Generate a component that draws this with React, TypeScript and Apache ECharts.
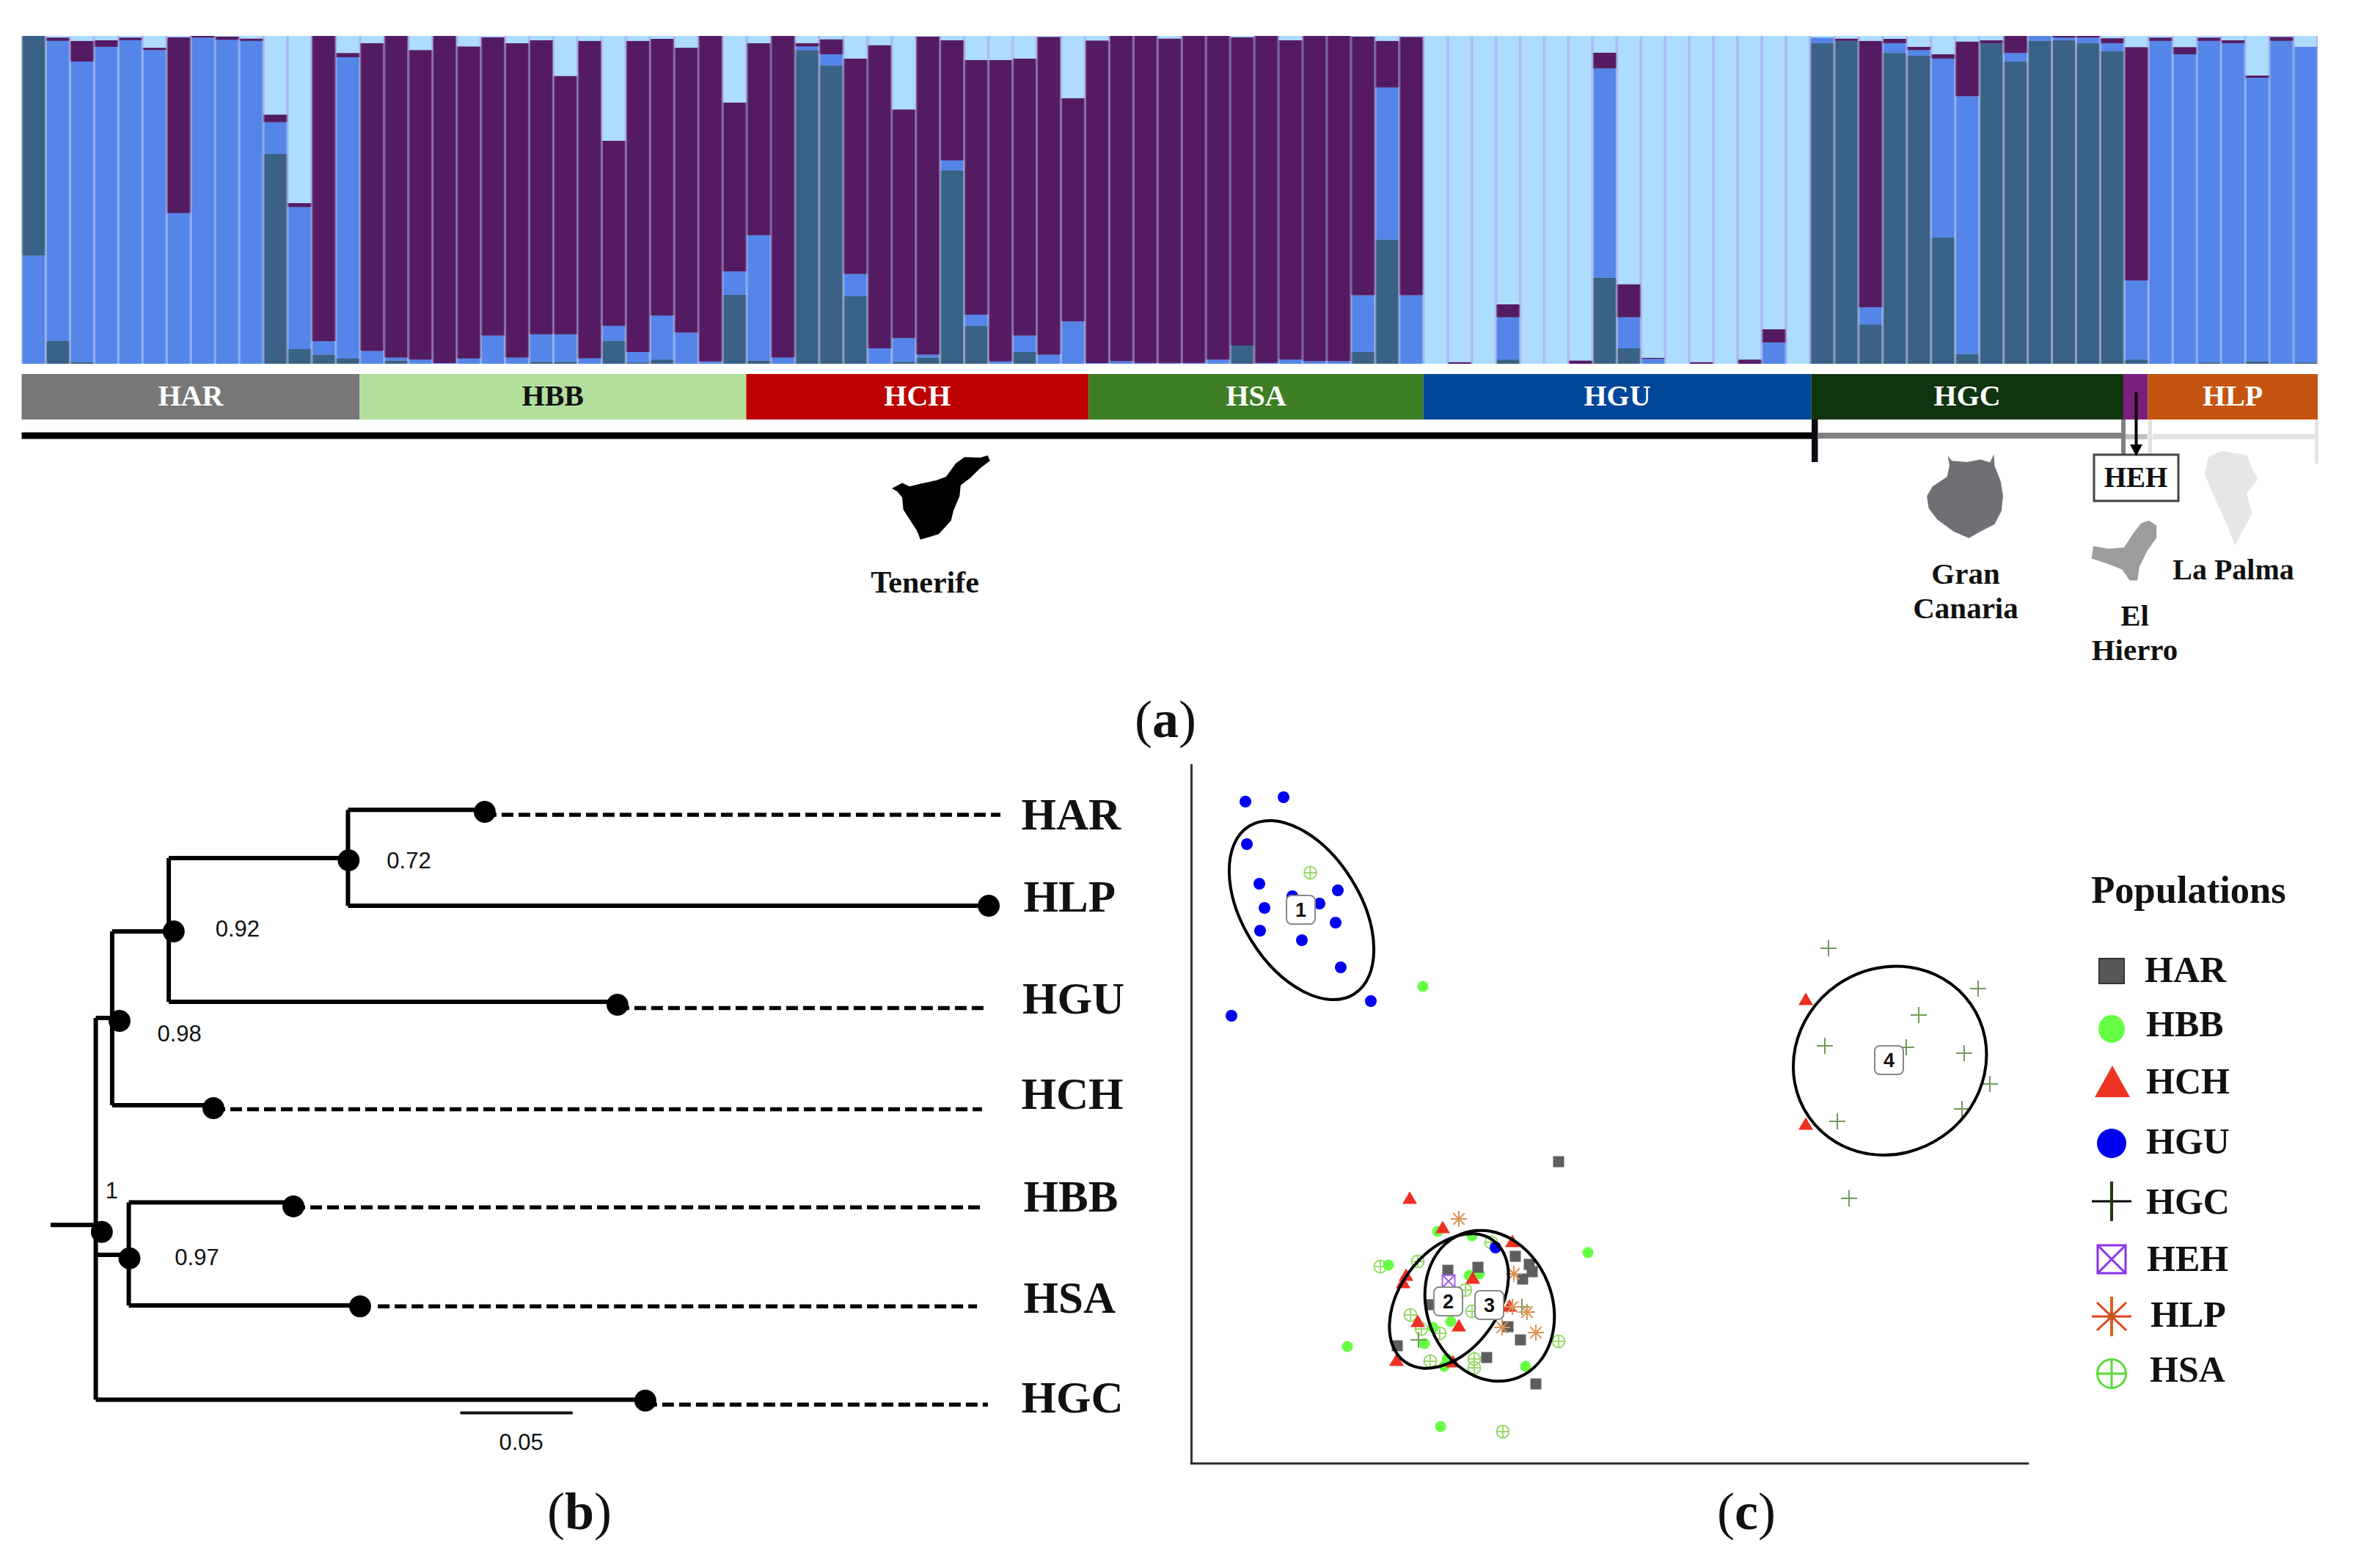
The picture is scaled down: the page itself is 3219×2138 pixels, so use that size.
import React, { useEffect, useRef } from "react";
import * as echarts from "echarts";

const SERIF = "'Liberation Serif', serif";
const SANS = "'Liberation Sans', sans-serif";

// ---------- panel (a): admixture proportions, one entry per individual (95)
const teal = [0,7,0.5,0,0,0,0,0,0,0,64,4.5,2.8,1.7, 0,1,0,0,0,0,0,0.6,0.6,0,7,0.4,1.3,0,0,21.1, 1,0,95.7,91,20.7,0,0.6,1.9,59,11.6,0,3.6,0,0, 0,0,0,0,0,0,5.6,0,0,0,0,3.6,37.9,0, 0,0,0,1.3,0,0,0,26.3,4.7,0,0,0,0,0,0,0, 97.8,98.5,12,94.8,94,38.5,3,97.8,92.2,98.5,98.7,97.8,95.3, 1.3, 0,0,0.4,0,0.8,0,0.4];
const blue = [33,91.5,91.7,96.7,98.7,95.7,46,99.5,98.8,98.5,9.7,43.3,4.1,91.8, 3.9,0.9,1.3,0.2,1.6,8.6,1.9,8.4,8.4,1.7,4.6,3.2,13.4,9.5,0.7,7.1, 38.2,1.9,1.1,3.4,6.7,4.7,7.3,0.9,3,3.4,0.7,5,2.8,12.9, 0.2,0.8,0.3,0.3,0.3,1.3,0,0.3,1.3,0.8,0.8,17.3,46.4,20.9, 0,0,0,12.9,0,0,0,63.8,9.5,1.5,0,0,0,0,6.5,0, 1.7,0,5.2,3,1.7,54.6,78.6,0,2.6,1.5,0.8,1.7,2.5, 24.1, 98.5,94.4,98.1,97.8,86.4,98.5,96.3];
const purple = [0,1,6.3,2,0.8,0.7,53.6,0.5,1,0.7,2.3,1.2,93.1,1.3, 93.9,98.1,94.4,99.8,95.2,91,95.9,89.7,78.8,96.8,56.4,94.9,84.4,86.9,99.3,51.5, 58.6,98.1,1,4.6,65.7,92.5,69.7,97,36.7,77.7,92,84.5,96.9,68.1, 98.4,99.2,99.7,98.9,99.7,98.7,94,99.7,97.4,99.2,99.2,78.9,14.2,78.8, 0,0.5,0,3.9,0,0,1,4.8,10.1,0.3,0,0.5,0,1.3,4,0, 0,0.7,81.3,1.3,1,1.3,16.7,0.9,5.2,0,0.5,0.5,1.5, 71.2, 1,2.2,1,0.9,0.7,1.2,0];
const light = [0,0.5,1.5,1.3,0.5,3.6,0.4,0,0.2,0.8,24,51,0,5.2, 2.2,0,4.3,0,3.2,0.4,2.2,1.3,12.2,1.5,32,1.5,0.9,3.6,0,20.3, 2.2,0,2.2,1,6.9,2.8,22.4,0.2,1.3,7.3,7.3,6.9,0.3,19, 1.4,0,0,0.8,0,0,0.4,0,1.3,0,0,0.2,1.5,0.3, 100,99.5,100,81.9,100,100,99,5.1,75.7,98.2,100,99.5,100,98.7,89.5,100, 0.5,0.8,1.5,0.9,3.3,5.6,1.7,1.3,0,0,0,0,0.7, 3.4, 0.5,3.4,0.5,1.3,12.1,0.3,3.3];
const tealTop = [67, ...new Array(94).fill(0)];
const individuals = teal.map((_, i) => String(i + 1));

const populations = ["HAR","HBB","HCH","HSA","HGU","HGC","HEH","HLP"];
const bandSpans = [13.98,16.0,14.17,13.85,16.04,12.92,1.01,7.03];
const bandColors = ["#777777","#B2E09C","#BC0000","#3E7E24","#004799","#10340F","#7B1F7F","#C4540F"];

// ---------- panel (b): tree, x = branch length, y = row
const treeBranches = [
  [[-0.0201,4.21],[0,4.21]],
  [[0,2.10],[0,5.99]],
  [[0,2.10],[0.0073,2.10]],
  [[0.0073,1.218],[0.0073,2.99]],
  [[0.0073,2.99],[0.0524,2.99]],
  [[0.0073,1.218],[0.0325,1.218]],
  [[0.0325,0.47],[0.0325,1.936]],
  [[0.0325,1.936],[0.2323,1.936]],
  [[0.0325,0.47],[0.1123,0.47]],
  [[0.1123,-0.02],[0.1123,0.957]],
  [[0.1123,-0.02],[0.1732,-0.02]],
  [[0.1123,0.957],[0.3976,0.957]],
  [[0,4.515],[0.0147,4.515]],
  [[0.0147,3.98],[0.0147,5.03]],
  [[0.0147,3.98],[0.088,3.98]],
  [[0.0147,5.03],[0.1177,5.03]],
  [[0,5.99],[0.2447,5.99]],
];
const treeDashes = [
  [[0.1732,0.03],[0.4028,0.03]],
  [[0.2323,2.0],[0.3972,2.0]],
  [[0.0524,3.03],[0.3946,3.03]],
  [[0.088,4.03],[0.394,4.03]],
  [[0.1256,5.04],[0.3924,5.04]],
  [[0.2447,6.04],[0.3972,6.04]],
];
const treeNodes = [[0.0027,4.28],[0.0106,2.13],[0.0347,1.218],[0.1126,0.493],[0.015,4.55],[0.1732,0],[0.3976,0.957],[0.2323,1.966],[0.0524,3.02],[0.088,4.02],[0.1177,5.04],[0.2447,6.0]];
const scaleBar = [[0.1623,6.125],[0.2123,6.125]];
const supportLabels: [number,number,string][] = [[0.1396,0.504,"0.72"],[0.0633,1.196,"0.92"],[0.0374,2.265,"0.98"],[0.0073,3.864,"1"],[0.0452,4.547,"0.97"],[0.1896,6.425,"0.05"]];
const taxa: [number,number,string][] = [[0.4123,0.032,"HAR"],[0.4133,0.869,"HLP"],[0.4128,1.906,"HGU"],[0.4123,2.877,"HCH"],[0.4133,3.924,"HBB"],[0.4133,4.955,"HSA"],[0.4123,5.972,"HGC"]];

// ---------- panel (c): discriminant scores
const ptsHAR = [[501,411],[350,263],[391,267],[442,282],[461,271],[465,261],[452,251],[327,216],[432,186],[449,168],[281,160],[403,144],[470,108]];
const ptsHBB = [[316,650],[336,316],[383,310],[269,270],[541,287],[379,256],[393,258],[354,193],[330,185],[318,163],[213,159],[349,142],[345,132],[456,132],[340,50]];
const ptsHCH = [[298,362],[343,322],[438,303],[293,257],[289,247],[384,253],[434,215],[309,194],[365,188],[280,141],[357,139],[838,633],[838,463]];
const ptsHGU = [[74,902],[126,908],[76,844],[93,790],[138,773],[200,781],[100,757],[175,763],[197,737],[94,726],[151,713],[204,676],[245,630],[55,610],[415,294]];
const ptsHGC = [[310,168],[451,213],[869,702],[1073,647],[992,611],[975,567],[864,569],[1054,559],[1089,517],[1051,483],[881,466],[897,361]];
const ptsHEH = [[351,248]];
const ptsHLP = [[365,333],[440,258],[438,213],[458,206],[424,185],[470,178]];
const ptsHSA = [[162.5,805],[258,268],[309,275],[409,301],[374,236],[383,207],[299,202],[314,183],[339,177],[326,139],[386,142],[386,130],[501,166],[425,43]];
// cx, cy, semi-major, semi-minor, rotation in degrees
const clusterEllipses = [[150.5,754,135,80,-58],[351.5,221,102.4,67.2,53.9],[407,214.5,105.3,85.3,-68.4],[952.7,548.8,134.5,125.8,35]];
const clusterLabels: [number,number,string][] = [[150,754,"1"],[351,220,"2"],[407,215,"3"],[952,549,"4"]];

const SYM_PLUS = "path://M0 5H10M5 0V10";
const SYM_AST = "path://M5 0V10M0 5H10M1.5 1.5L8.5 8.5M8.5 1.5L1.5 8.5";
const SYM_CPLUS = "path://M0 5A5 5 0 1 1 10 5A5 5 0 1 1 0 5ZM0 5H10M5 0V10";
const SYM_BOXX = "path://M0 0H10V10H0ZM0 0L10 10M10 0L0 10";

// islands, outlines
const poly = (p: number[][]) => "M" + p.map((q) => q.join(" ")).join("L") + "Z";
echarts.graphic.registerShape("tenerife", echarts.graphic.extendPath(poly([[78,198],[120,176],[150,190],[200,178],[260,165],[300,150],[340,95],[375,70],[440,72],[470,63],[480,85],[440,115],[400,155],[360,185],[355,230],[330,290],[320,330],[270,385],[195,408],[180,370],[125,285],[120,235],[100,210]]), {}));
echarts.graphic.registerShape("grancanaria", echarts.graphic.extendPath(poly([[490,185],[500,205],[540,210],[575,200],[600,212],[610,178],[612,225],[628,290],[634,350],[630,410],[612,465],[575,495],[545,522],[505,495],[462,445],[440,400],[435,350],[450,310],[488,270],[494,225]]), {}));
echarts.graphic.registerShape("elhierro", echarts.graphic.extendPath(poly([[1015,450],[1035,470],[1035,520],[1010,575],[990,640],[985,695],[965,695],[945,650],[905,625],[865,605],[870,555],[910,565],[950,560],[975,500],[995,460]]), {}));
echarts.graphic.registerShape("lapalma", echarts.graphic.extendPath(poly([[1205,165],[1270,180],[1285,240],[1300,280],[1270,340],[1285,420],[1240,550],[1220,470],[1185,350],[1160,260],[1170,190]]), {}));

const txt = (text: string, x: number, y: number, fontSize: number, opts: any = {}) => ({
  type: "text", x, y, z: 20,
  style: { text, fontSize, fontFamily: SERIF, fontWeight: "bold", fill: "#111",
    align: "center", textAlign: "center", verticalAlign: "middle", textVerticalAlign: "middle", ...opts },
});
const bar = (x: number, y: number, w: number, h: number, fill: string) => ({ type: "rect", z: 5, shape: { x, y, width: w, height: h }, style: { fill } });
const seg = (x1: number, y1: number, x2: number, y2: number, stroke: string, lineWidth: number) => ({ type: "line", z: 20, shape: { x1, y1, x2, y2 }, style: { stroke, lineWidth } });
const panelTag = (letter: string, x: number, y: number) => ({
  type: "text", x, y, z: 20,
  style: { text: `{p|(}{b|${letter}}{p|)}`, fill: "#111", align: "center", textAlign: "center", verticalAlign: "middle", textVerticalAlign: "middle",
    rich: { p: { fontSize: 72, fontFamily: SERIF, fill: "#111" }, b: { fontSize: 72, fontFamily: SERIF, fontWeight: "bold", fill: "#111" } } },
});

const legendNames = ["HAR","HBB","HCH","HGU","HGC","HEH","HLP","HSA"];
const legendTextX = [2924,2926,2926,2926,2926,2927,2932,2931];
const legendTextY = [1322,1396,1474,1556,1638,1716,1792,1867];

function legendGraphics() {
  const sx = 2879;
  const lg: any[] = [];
  lg.push(txt("Populations", 2984, 1213, 52.5));
  legendNames.forEach((n, i) => lg.push(txt(n, legendTextX[i], legendTextY[i], 50, { align: "left", textAlign: "left" })));
  lg.push({ type: "rect", z: 20, shape: { x: sx - 17, y: 1307, width: 34, height: 34 }, style: { fill: "#565656", stroke: "#333", lineWidth: 2 } });
  lg.push({ type: "ellipse", z: 20, shape: { cx: sx, cy: 1403, rx: 18, ry: 19 }, style: { fill: "#66FF44" } });
  lg.push({ type: "polygon", z: 20, shape: { points: [[sx + 1, 1453], [sx + 25, 1496], [sx - 23, 1496]] }, style: { fill: "#EE3322" } });
  lg.push({ type: "ellipse", z: 20, shape: { cx: sx, cy: 1559, rx: 20, ry: 20 }, style: { fill: "#0000F0" } });
  lg.push(seg(sx - 27, 1638, sx + 27, 1638, "#000", 3), seg(sx, 1611, sx, 1665, "#1C3A12", 4));
  lg.push({ type: "rect", z: 20, shape: { x: sx - 19, y: 1698, width: 38, height: 38 }, style: { fill: "none", stroke: "#8B30F0", lineWidth: 3 } });
  lg.push(seg(sx - 19, 1698, sx + 19, 1736, "#8B30F0", 3), seg(sx + 19, 1698, sx - 19, 1736, "#8B30F0", 3));
  const a = 1795;
  lg.push(seg(sx - 27, a, sx + 27, a, "#E2441C", 3), seg(sx, a - 27, sx, a + 27, "#E2601C", 4), seg(sx - 20, a - 19, sx + 20, a + 19, "#E2441C", 3), seg(sx + 20, a - 19, sx - 20, a + 19, "#E2441C", 3));
  lg.push({ type: "circle", z: 20, shape: { cx: sx, cy: a, r: 5 }, style: { fill: "#C8581C" } });
  lg.push({ type: "ellipse", z: 20, shape: { cx: sx, cy: 1873, rx: 19.5, ry: 19.5 }, style: { fill: "none", stroke: "#55DD33", lineWidth: 3 } });
  lg.push(seg(sx - 19, 1873, sx + 19, 1873, "#55DD33", 3), seg(sx, 1854, sx, 1892, "#55DD33", 3));
  return lg;
}

function buildOption() {
  const stackColors: [number[], string, string][] = [
    [teal, "#3A6186", "#7D95B4"],
    [blue, "#5585E8", "#86A6F3"],
    [purple, "#541B63", "#7D5D92"],
    [light, "#AEDCFC", "#A6B4F6"],
    [tealTop, "#3A6186", "#7D95B4"],
  ];
  const series: any[] = [];
  stackColors.forEach(([data, fg, bg], i) => {
    series.push({ type: "bar", name: `under${i}`, stack: "under", xAxisIndex: 1, yAxisIndex: 1, data, barCategoryGap: "0%", z: 1, itemStyle: { color: bg }, silent: true });
    series.push({ type: "bar", name: `k${i}`, stack: "fore", xAxisIndex: 0, yAxisIndex: 0, data, barWidth: 29.5, z: 2, itemStyle: { color: fg }, silent: true });
  });
  populations.forEach((p, i) => {
    series.push({
      type: "bar", name: p, stack: "bands", xAxisIndex: 2, yAxisIndex: 2, data: [bandSpans[i]], barCategoryGap: "0%",
      itemStyle: { color: bandColors[i] }, silent: true,
      label: { show: p !== "HEH", position: "inside", offset: [0, -2], formatter: p, fontFamily: SERIF, fontWeight: "bold", fontSize: 40, color: p === "HBB" ? "#111" : "#fff" },
    });
  });
  treeBranches.forEach((b) => series.push({ type: "line", xAxisIndex: 3, yAxisIndex: 3, data: b, symbol: "none", silent: true, lineStyle: { color: "#000", width: 6, opacity: 1 } }));
  treeDashes.forEach((b) => series.push({ type: "line", xAxisIndex: 3, yAxisIndex: 3, data: b, symbol: "none", silent: true, lineStyle: { color: "#000", width: 5.5, type: [16, 7], opacity: 1 } }));
  series.push({ type: "line", xAxisIndex: 3, yAxisIndex: 3, data: scaleBar, symbol: "none", silent: true, lineStyle: { color: "#111", width: 4 } });
  series.push({ type: "scatter", xAxisIndex: 3, yAxisIndex: 3, data: treeNodes, symbol: "circle", symbolSize: 30, z: 4, silent: true, itemStyle: { color: "#000", opacity: 1 } });
  const labelled = (rows: [number, number, string][], label: any, xi: number) => ({
    type: "scatter", xAxisIndex: xi, yAxisIndex: xi, symbolSize: 1, z: 6, silent: true, itemStyle: { color: "transparent", opacity: 1 },
    data: rows.map((r) => ({ value: [r[0], r[1]], name: r[2] })),
    label: { show: true, formatter: "{b}", position: [0, 0], verticalAlign: "middle", opacity: 1, ...label },
  });
  series.push(labelled(supportLabels, { fontFamily: SANS, fontSize: 31, color: "#111", align: "center" }, 3));
  series.push(labelled(taxa, { fontFamily: SERIF, fontWeight: "bold", fontSize: 61, color: "#111", align: "left" }, 3));

  const pts = (data: number[][], symbol: string, symbolSize: any, style: any) => ({
    type: "scatter", xAxisIndex: 4, yAxisIndex: 4, data, symbol, symbolSize, z: 3, silent: true, itemStyle: { opacity: 1, ...style },
  });
  series.push(pts(ptsHSA, SYM_CPLUS, 17, { color: "transparent", borderColor: "#9ADB6C", borderWidth: 2 }));
  series.push(pts(ptsHBB, "circle", 15, { color: "#66FF44" }));
  series.push(pts(ptsHGC, SYM_PLUS, 22, { color: "transparent", borderColor: "#6F9A5A", borderWidth: 2 }));
  series.push(pts(ptsHAR, "rect", 15, { color: "#5E5E5E" }));
  series.push(pts(ptsHEH, SYM_BOXX, 17, { color: "transparent", borderColor: "#A060F0", borderWidth: 2 }));
  series.push(pts(ptsHCH, "triangle", [20, 17], { color: "#EE2F22" }));
  series.push(pts(ptsHGU, "circle", 16, { color: "#0000F0" }));
  series.push(pts(ptsHLP, SYM_AST, 22, { color: "transparent", borderColor: "#DB9358", borderWidth: 2 }));
  series.push({
    type: "custom", coordinateSystem: "cartesian2d", xAxisIndex: 4, yAxisIndex: 4, z: 4, silent: true, data: clusterEllipses,
    renderItem: (_: any, api: any) => {
      const c = api.coord([api.value(0), api.value(1)]);
      const s = api.size([1, 1]);
      return { type: "ellipse", x: c[0], y: c[1], rotation: (api.value(4) * Math.PI) / 180,
        shape: { cx: 0, cy: 0, rx: api.value(2) * s[0], ry: api.value(3) * s[1] },
        style: { fill: "none", stroke: "#000", lineWidth: 4 } };
    },
  });
  series.push(labelled(clusterLabels, {
    fontFamily: SANS, fontWeight: "bold", fontSize: 27, color: "#111", align: "center",
    backgroundColor: "#fff", borderColor: "#888", borderWidth: 2, borderRadius: 6, padding: [6, 11, 4, 11],
  }, 4));

  const hidden = { show: false };
  const graphic: any[] = [
    bar(29.5, 589.5, 2449, 9, "#000"),
    bar(2470, 572, 8.5, 58, "#0A0A14"),
    bar(2478, 590, 415, 8, "#808080"),
    bar(2892, 572, 6, 48, "#808080"),
    bar(2898, 592, 30, 7, "#C0C0C0"),
    bar(2929, 572, 5, 48, "#E0E0E0"),
    bar(2935, 592, 222, 7, "#E2E2E2"),
    bar(3156, 572, 5, 60, "#E4E4E4"),
    { type: "tenerife", x: 1190, y: 600, scaleX: 1 / 3, scaleY: 1 / 3, z: 5, style: { fill: "#000" } },
    { type: "grancanaria", x: 2400, y: 560, scaleX: 0.522, scaleY: 1 / 3, z: 5, style: { fill: "#6F7076" } },
    { type: "elhierro", x: 2400, y: 560, scaleX: 0.522, scaleY: 1 / 3, z: 5, style: { fill: "#9C9C9C" } },
    { type: "lapalma", x: 2400, y: 560, scaleX: 0.522, scaleY: 1 / 3, z: 5, style: { fill: "#E6E6E6" } },
    { type: "rect", z: 10, shape: { x: 2855, y: 620, width: 115, height: 63 }, style: { fill: "#fff", stroke: "#444", lineWidth: 3 } },
    seg(2912.5, 535, 2912.5, 612, "#000", 4),
    { type: "polygon", z: 20, shape: { points: [[2904, 606], [2921, 606], [2912.5, 622]] }, style: { fill: "#000" } },
    txt("HEH", 2912, 650, 39),
    txt("Tenerife", 1261, 794, 42),
    txt("Gran", 2680, 782, 41),
    txt("Canaria", 2680, 829, 41),
    txt("El", 2910.5, 839, 41),
    txt("Hierro", 2910.5, 886, 41),
    txt("La Palma", 3045, 776, 40),
    panelTag("a", 1589, 981),
    panelTag("b", 790, 2061),
    panelTag("c", 2381, 2061),
    ...legendGraphics(),
  ];

  return {
    animation: false,
    backgroundColor: "#fff",
    grid: [
      { left: 29.5, top: 49, width: 3130.5, height: 447 },
      { left: 29.5, top: 510, width: 3130.5, height: 62 },
      { left: 38.7, top: 1040.1, width: 1469.8, height: 1003.5 },
      { left: 1624, top: 1043, width: 1141, height: 952 },
    ],
    xAxis: [
      { type: "category", gridIndex: 0, data: individuals, ...hidden },
      { type: "category", gridIndex: 0, data: individuals, ...hidden },
      { type: "value", gridIndex: 1, min: 0, max: 95, ...hidden },
      { type: "value", gridIndex: 2, min: -0.03, max: 0.45, ...hidden },
      { type: "value", gridIndex: 3, min: 0, max: 1141, axisLine: { show: true, onZero: false, lineStyle: { color: "#333", width: 3 } }, axisTick: { show: false }, axisLabel: { show: false }, splitLine: { show: false } },
    ],
    yAxis: [
      { type: "value", gridIndex: 0, min: 0, max: 100, ...hidden },
      { type: "value", gridIndex: 0, min: 0, max: 100, ...hidden },
      { type: "category", gridIndex: 1, data: ["Population"], ...hidden },
      { type: "value", gridIndex: 2, min: -0.5, max: 7, inverse: true, ...hidden },
      { type: "value", gridIndex: 3, min: 0, max: 952, axisLine: { show: true, onZero: false, lineStyle: { color: "#333", width: 3 } }, axisTick: { show: false }, axisLabel: { show: false }, splitLine: { show: false } },
    ],
    series,
    graphic: { elements: graphic },
  };
}

export default function App() {
  const ref = useRef<HTMLDivElement>(null);
  useEffect(() => {
    const chart = echarts.init(ref.current as HTMLDivElement, undefined, { renderer: "svg" });
    chart.setOption(buildOption() as any);
    return () => chart.dispose();
  }, []);
  return <div ref={ref} style={{ position: "fixed", left: 0, top: 0, width: 3219, height: 2138, background: "#fff" }} />;
}
